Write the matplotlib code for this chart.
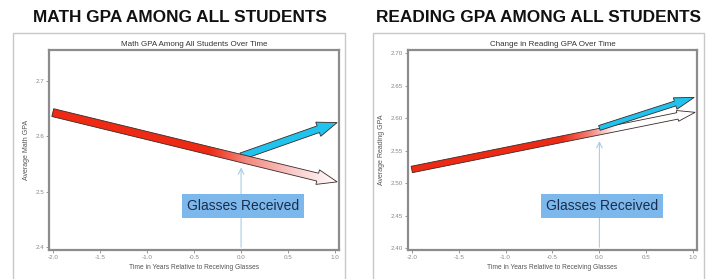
import numpy as np
import matplotlib
matplotlib.use("Agg")
import matplotlib.pyplot as plt
from matplotlib.patches import Polygon, Rectangle
from matplotlib.colors import LinearSegmentedColormap

plt.rcParams['font.family'] = ['Liberation Sans', 'DejaVu Sans']

# --- data ---
years = [-2.0, 0.0, 1.02]            # start, glasses received, end of arrow

math_trend = [2.643, 2.560, 2.518]   # red -> white (trend without glasses)
math_after = [2.564, 2.625]          # blue (after glasses)
read_trend = [2.521, 2.580, 2.609]
read_after = [2.585, 2.632]

math_yticks = [2.4, 2.5, 2.6, 2.7]
read_yticks = [2.40, 2.45, 2.50, 2.55, 2.60, 2.65, 2.70]
xticks = [-2.0, -1.5, -1.0, -0.5, 0.0, 0.5, 1.0]

RED = '#ee2a14'
BLUE = '#20c2ee'
BOX = '#7db8ec'


def fat_arrow(ax, x0, y0, x1, y1, shaft, head_w, head_len, color=None,
              grad=None, z=3):
    # arrow outline built in pixel space, then mapped back to data
    p0 = ax.transData.transform((x0, y0))
    p1 = ax.transData.transform((x1, y1))
    d = p1 - p0
    u = d / np.hypot(*d)
    n = np.array([-u[1], u[0]])
    b = p1 - u * head_len
    pts = [p0 + n * shaft / 2, b + n * shaft / 2, b + n * head_w / 2, p1,
           b - n * head_w / 2, b - n * shaft / 2, p0 - n * shaft / 2]
    pts = ax.transData.inverted().transform(np.array(pts))
    poly = Polygon(pts, closed=True, facecolor=color if color else 'none',
                   edgecolor='#3a2a28', lw=0.6, zorder=z + 0.1)
    ax.add_patch(poly)
    if grad is not None:
        cmap = LinearSegmentedColormap.from_list('g', grad)
        xs = np.linspace(0, 1, 256).reshape(1, -1)
        im = ax.imshow(xs, cmap=cmap, aspect='auto', zorder=z,
                       extent=[pts[:, 0].min(), pts[:, 0].max(),
                               pts[:, 1].min(), pts[:, 1].max()],
                       interpolation='bilinear')
        clip = Polygon(pts, closed=True, transform=ax.transData)
        im.set_clip_path(clip)
    return poly


fig = plt.figure(figsize=(7.12, 2.79), dpi=100)

# outer panel frames and big titles
for x0, x1, cx, t in [(13, 345, 180, 'MATH GPA AMONG ALL STUDENTS'),
                      (373, 704, 538, 'READING GPA AMONG ALL STUDENTS')]:
    fig.add_artist(Rectangle((x0 / 712, -0.1), (x1 - x0) / 712, 1.1 - 33 / 279,
                             transform=fig.transFigure, fill=False,
                             ec='#c8c8c8', lw=1))
    fig.text(cx / 712, 1 - 17.5 / 279, t, ha='center', va='center',
             fontsize=12.4, fontweight='bold', color='#111111')

ax1 = fig.add_axes([49 / 712, 1 - 250 / 279, 290 / 712, 200 / 279])
ax2 = fig.add_axes([408 / 712, 1 - 250 / 279, 289 / 712, 200 / 279])

setups = [
    (ax1, 'Math GPA Among All Students Over Time', 'Average Math GPA',
     (2.395, 2.756), math_yticks, '%.1f'),
    (ax2, 'Change in Reading GPA Over Time', 'Average Reading GPA',
     (2.397, 2.705), read_yticks, '%.2f'),
]
for ax, title, ylab, ylim, yt, fmt in setups:
    ax.set_xlim(-2.04, 1.04)
    ax.set_ylim(*ylim)
    ax.set_xticks(xticks)
    ax.set_xticklabels(['%.1f' % v for v in xticks])
    ax.set_yticks(yt)
    ax.set_yticklabels([fmt % v for v in yt])
    ax.tick_params(labelsize=4.5, colors='#888888', length=2, width=0.6,
                   pad=1.5)
    for s in ax.spines.values():
        s.set_color('#8c8c8c')
        s.set_linewidth(1.6)
    ax.set_title(title, fontsize=5.8, color='#333333', pad=3)
    ax.set_xlabel('Time in Years Relative to Receiving Glasses', fontsize=4.8,
                  color='#555555', labelpad=3)
    ax.set_ylabel(ylab, fontsize=5, color='#555555', labelpad=4)

# math panel
fat_arrow(ax1, years[1], math_after[0], years[2], math_after[1],
          7, 15, 20, color=BLUE, z=3)
fat_arrow(ax1, years[0], math_trend[0], years[2], math_trend[2], 8, 15, 20,
          grad=[(0, RED), (0.55, RED), (0.68, '#f2897e'), (0.85, '#f8cdcb'),
                (1, '#ffffff')], z=4)
ax1.annotate('', xy=(0, 2.549), xytext=(0, ax1.get_ylim()[0]),
             arrowprops=dict(arrowstyle='->', color='#a8cde6', lw=0.8),
             zorder=2)
ax1.text(0.02, 2.475, 'Glasses Received', fontsize=10, color='#1b2d4a',
         ha='center', va='center', zorder=5,
         bbox=dict(boxstyle='square,pad=0.35', fc=BOX, ec='none'))

# reading panel
fat_arrow(ax2, years[0], read_trend[0], years[2], read_trend[2], 6.5, 11, 18,
          grad=[(0, RED), (0.53, RED), (0.62, '#f47a70'), (0.72, '#ffffff'),
                (1, '#ffffff')], z=3)
fat_arrow(ax2, years[1], read_after[0], years[2] - 0.01, read_after[1],
          5, 12, 20, color=BLUE, z=4)
ax2.annotate('', xy=(0, 2.569), xytext=(0, ax2.get_ylim()[0]),
             arrowprops=dict(arrowstyle='->', color='#a8cde6', lw=0.8),
             zorder=2)
ax2.text(0.025, 2.465, 'Glasses Received', fontsize=10, color='#1b2d4a',
         ha='center', va='center', zorder=5,
         bbox=dict(boxstyle='square,pad=0.35', fc=BOX, ec='none'))

ax1.set_xlim(-2.04, 1.04)
ax1.set_ylim(2.395, 2.756)
ax2.set_xlim(-2.04, 1.04)
ax2.set_ylim(2.397, 2.705)

fig.savefig('out.png', dpi=100)
